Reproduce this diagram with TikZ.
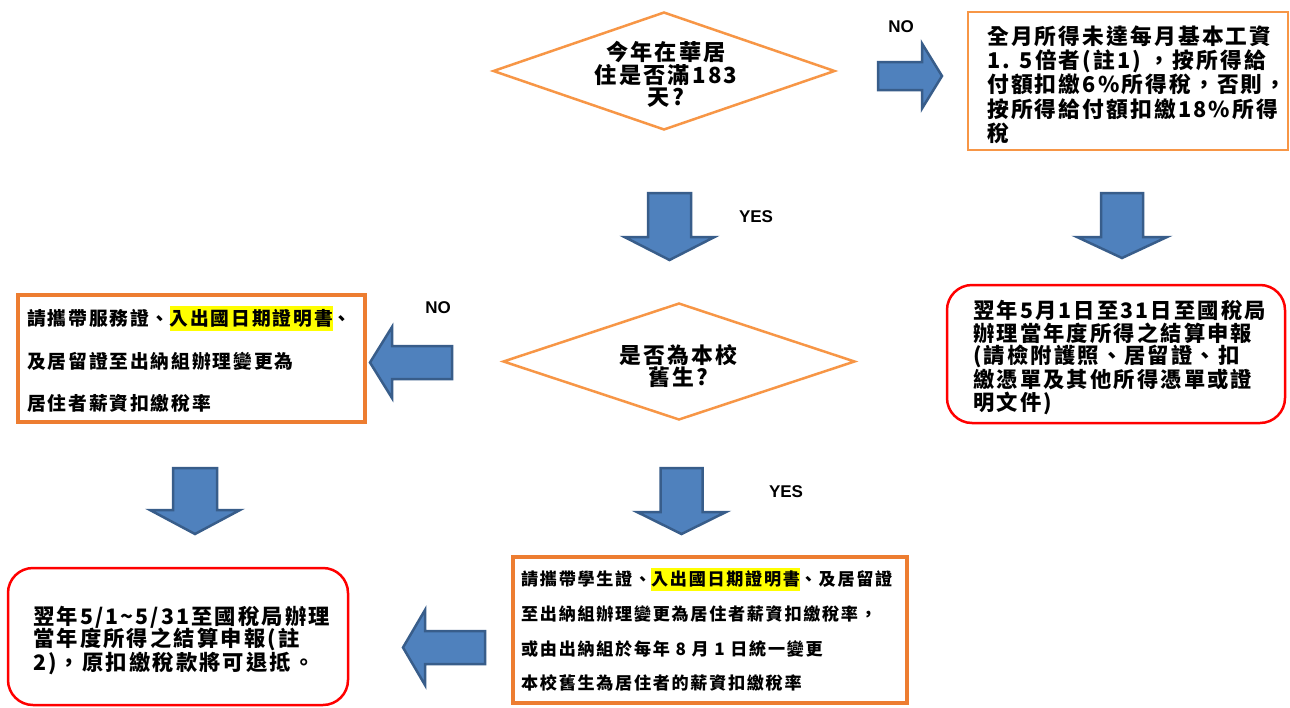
\documentclass[tikz,border=0pt]{standalone}
\usepackage{fontspec}
\usetikzlibrary{shapes.geometric}
\newfontfamily\cjk{Noto Sans CJK TC}[LetterSpace=10]
\newfontfamily\lab{Liberation Sans}
\definecolor{arrowfill}{HTML}{4F81BD}
\definecolor{arrowline}{HTML}{385D8A}
\definecolor{lightorange}{HTML}{F79646}
\definecolor{darkorange}{HTML}{ED7D31}
\definecolor{hlyellow}{HTML}{FFFF00}
\newcommand{\yhl}[1]{{\setlength{\fboxsep}{0pt}\colorbox{hlyellow}{\rule[-0.28em]{0pt}{1.3em}#1}}}
\newcommand{\cjksize}[2]{\cjk\bfseries\fontsize{#1pt}{#2pt}\selectfont}
\newcommand{\downarr}[6]{\draw[blockarrow] ({#1-#5},#2) -- ({#1+#5},#2) -- ({#1+#5},#3) -- ({#1+#6},#3) -- (#1,#4) -- ({#1-#6},#3) -- ({#1-#5},#3) -- cycle;}
\newcommand{\leftarr}[6]{\draw[blockarrow] (#4,{#2-#5}) -- (#3,{#2-#5}) -- (#3,{#2-#6}) -- (#1,#2) -- (#3,{#2+#6}) -- (#3,{#2+#5}) -- (#4,{#2+#5}) -- cycle;}
\newcommand{\rightarr}[6]{\draw[blockarrow] (#1,{#2-#5}) -- (#3,{#2-#5}) -- (#3,{#2-#6}) -- (#4,#2) -- (#3,{#2+#6}) -- (#3,{#2+#5}) -- (#1,{#2+#5}) -- cycle;}
\begin{document}
\begin{tikzpicture}[x=1pt,y=-1pt,
  blockarrow/.style={fill=arrowfill, draw=arrowline, line width=2.5pt},
  decision/.style={diamond, draw=lightorange, line width=2.5pt, inner sep=0pt},
  thinbox/.style={rectangle, draw=lightorange, line width=2.5pt, inner sep=0pt},
  thickbox/.style={rectangle, draw=darkorange, line width=4pt, inner sep=0pt},
  redbox/.style={rectangle, draw=red, line width=2.5pt, rounded corners=25pt, inner sep=0pt},
  lbl/.style={inner sep=0pt, font=\lab\bfseries\fontsize{17pt}{17pt}\selectfont},
  txt/.style={inner sep=0pt, text=black}]
\useasboundingbox (0,0) rectangle (1290,707);
\fill[white] (0,0) rectangle (1290,707);

% shapes
\node[decision, minimum width=342pt, minimum height=118pt] (d1) at (664,71) {};
\node[decision, minimum width=352pt, minimum height=117pt] (d2) at (679,361.5) {};
\node[thinbox, minimum width=320pt, minimum height=138pt] (tr) at (1128,81) {};
\node[redbox, minimum width=338pt, minimum height=138pt] (rr) at (1116,354) {};
\node[thickbox, minimum width=347pt, minimum height=127pt] (lo) at (191.5,358.5) {};
\node[thickbox, minimum width=394pt, minimum height=146pt] (bm) at (710,630) {};
\node[redbox, minimum width=340pt, minimum height=137pt] (bl) at (178,636.5) {};

% block arrows
\rightarr{878}{76}{922}{942}{14}{32.5}
\downarr{669.5}{193}{237}{260}{21.5}{45}
\downarr{1122}{193}{237}{258}{21}{45}
\leftarr{370}{362.5}{392}{452}{16.5}{35.5}
\downarr{195}{468}{510}{534}{22}{45}
\downarr{681.5}{468}{512}{534}{21}{44.5}
\leftarr{403}{647.5}{425}{485}{16.5}{37.5}

% labels
\node[lbl, anchor=base] (no1) at (901,32) {NO};
\node[lbl, anchor=base] (yes1) at (756,222) {YES};
\node[lbl, anchor=base] (no2) at (438,313) {NO};
\node[lbl, anchor=base] (yes2) at (786,497) {YES};

% texts
\node[txt, align=center, font={\cjksize{22.2}{22.5}}] (d1t) at (666,74.5) {今年在華居\\住是否滿183\\天?};
\node[txt, align=center, font={\cjksize{21.8}{22}}] (d2t) at (678,366) {是否為本校\\舊生?};
\node[txt, anchor=west, align=left, font={\cjksize{21.7}{24.3}}] (trt) at (987,84.5)
  {全月所得未達每月基本工資\\1. 5倍者(註1) ，按所得給\\付額扣繳6\%所得稅，否則，\\按所得給付額扣繳18\%所得\\稅};
\node[txt, anchor=west, align=left, font={\cjksize{21.3}{22.75}}] (rrt) at (973,357.5)
  {翌年5月1日至31日至國稅局\\辦理當年度所得之結算申報\\(請檢附護照、居留證、扣\\繳憑單及其他所得憑單或證\\明文件)};
\node[txt, anchor=west, align=left, font={\cjksize{18.75}{42.5}}] (lot) at (27,359.5)
  {請攜帶服務證、\yhl{入出國日期證明書}、\\及居留證至出納組辦理變更為\\居住者薪資扣繳稅率};
\node[txt, anchor=west, align=left, font={\cjksize{17.1}{34.7}}] (bmt) at (521,630)
  {請攜帶學生證、\yhl{入出國日期證明書}、及居留證\\至出納組辦理變更為居住者薪資扣繳稅率，\\或由出納組於每年 8 月 1 日統一變更\\本校舊生為居住者的薪資扣繳稅率};
\node[txt, anchor=west, align=left, font={\cjksize{21.3}{22.5}}] (blt) at (33,640.5)
  {翌年5/1\textasciitilde5/31至國稅局辦理\\當年度所得之結算申報(註\\2)，原扣繳稅款將可退抵。};
\end{tikzpicture}
\end{document}
